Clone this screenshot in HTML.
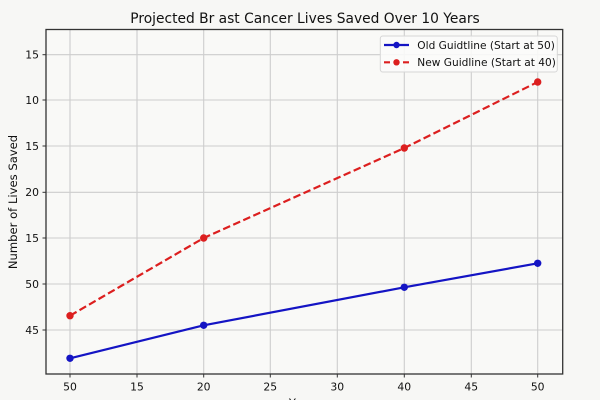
<!DOCTYPE html>
<html>
<head>
<meta charset="utf-8">
<style>
html,body{margin:0;padding:0;background:#f7f7f5;}
svg{display:block;}
text{font-family:"DejaVu Sans","Liberation Sans",sans-serif;fill:#111;}
</style>
</head>
<body>
<svg width="600" height="400" viewBox="0 0 600 400" xmlns="http://www.w3.org/2000/svg">
  <rect x="0" y="0" width="600" height="400" fill="#f7f7f5"/>
  <rect x="46" y="29.5" width="516.7" height="344.5" fill="#f9f9f7"/>
  <!-- grid -->
  <g stroke="#cdcdcd" stroke-width="1.1">
    <line x1="70" y1="29.5" x2="70" y2="374"/>
    <line x1="137" y1="29.5" x2="137" y2="374"/>
    <line x1="203.7" y1="29.5" x2="203.7" y2="374"/>
    <line x1="270.3" y1="29.5" x2="270.3" y2="374"/>
    <line x1="337.3" y1="29.5" x2="337.3" y2="374"/>
    <line x1="404.3" y1="29.5" x2="404.3" y2="374"/>
    <line x1="471.3" y1="29.5" x2="471.3" y2="374"/>
    <line x1="537.7" y1="29.5" x2="537.7" y2="374"/>
    <line x1="46" y1="54.7" x2="562.7" y2="54.7"/>
    <line x1="46" y1="100" x2="562.7" y2="100"/>
    <line x1="46" y1="146" x2="562.7" y2="146"/>
    <line x1="46" y1="192.3" x2="562.7" y2="192.3"/>
    <line x1="46" y1="238" x2="562.7" y2="238"/>
    <line x1="46" y1="284" x2="562.7" y2="284"/>
    <line x1="46" y1="330" x2="562.7" y2="330"/>
  </g>
  <!-- spines -->
  <rect x="46" y="29.5" width="516.7" height="344.5" fill="none" stroke="#333" stroke-width="1.3"/>
  <!-- ticks -->
  <g stroke="#333" stroke-width="1">
    <line x1="42.5" y1="54.7" x2="46" y2="54.7"/>
    <line x1="42.5" y1="100" x2="46" y2="100"/>
    <line x1="42.5" y1="146" x2="46" y2="146"/>
    <line x1="42.5" y1="192.3" x2="46" y2="192.3"/>
    <line x1="42.5" y1="238" x2="46" y2="238"/>
    <line x1="42.5" y1="284" x2="46" y2="284"/>
    <line x1="42.5" y1="330" x2="46" y2="330"/>
    <line x1="70" y1="374" x2="70" y2="377.5"/>
    <line x1="137" y1="374" x2="137" y2="377.5"/>
    <line x1="203.7" y1="374" x2="203.7" y2="377.5"/>
    <line x1="270.3" y1="374" x2="270.3" y2="377.5"/>
    <line x1="337.3" y1="374" x2="337.3" y2="377.5"/>
    <line x1="404.3" y1="374" x2="404.3" y2="377.5"/>
    <line x1="471.3" y1="374" x2="471.3" y2="377.5"/>
    <line x1="537.7" y1="374" x2="537.7" y2="377.5"/>
  </g>
  <!-- y tick labels -->
  <g font-size="10.8" text-anchor="end">
    <text x="39" y="58.6">15</text>
    <text x="39" y="103.9">10</text>
    <text x="39" y="149.9">15</text>
    <text x="39" y="196.2">20</text>
    <text x="39" y="241.9">15</text>
    <text x="39" y="287.9">50</text>
    <text x="39" y="333.9">45</text>
  </g>
  <!-- x tick labels -->
  <g font-size="10.8" text-anchor="middle">
    <text x="70" y="390.5">50</text>
    <text x="137" y="390.5">15</text>
    <text x="203.7" y="390.5">20</text>
    <text x="270.3" y="390.5">25</text>
    <text x="337.3" y="390.5">30</text>
    <text x="404.3" y="390.5">40</text>
    <text x="471.3" y="390.5">45</text>
    <text x="537.7" y="390.5">50</text>
  </g>
  <!-- axis labels -->
  <text x="304" y="407" font-size="11.5" text-anchor="middle">Years</text>
  <text transform="translate(17,202) rotate(-90)" font-size="11.6" text-anchor="middle">Number of Lives Saved</text>
  <!-- title -->
  <text x="305" y="23" font-size="13.8" text-anchor="middle">Projected Br ast Cancer Lives Saved Over 10 Years</text>
  <!-- red dashed series -->
  <polyline points="70,315.7 203.7,238 404.3,148 537.7,82" fill="none" stroke="#dc1f1f" stroke-width="2.2" stroke-dasharray="7.6,3.4"/>
  <g fill="#dc1f1f">
    <circle cx="70" cy="315.7" r="3.7"/>
    <circle cx="203.7" cy="238" r="3.7"/>
    <circle cx="404.3" cy="148" r="3.7"/>
    <circle cx="537.7" cy="82" r="3.7"/>
  </g>
  <!-- blue series -->
  <polyline points="70,358.3 203.7,325.3 404.3,287.3 537.7,263.3" fill="none" stroke="#1414c4" stroke-width="2.2"/>
  <g fill="#1414c4">
    <circle cx="70" cy="358.3" r="3.7"/>
    <circle cx="203.7" cy="325.3" r="3.7"/>
    <circle cx="404.3" cy="287.3" r="3.7"/>
    <circle cx="537.7" cy="263.3" r="3.7"/>
  </g>
  <!-- legend -->
  <rect x="380.3" y="36" width="177" height="36" rx="2.5" fill="#fbfbfa" fill-opacity="0.9" stroke="#d6d6d6" stroke-width="1"/>
  <line x1="384" y1="45" x2="409" y2="45" stroke="#1414c4" stroke-width="2.2"/>
  <circle cx="396.5" cy="45" r="3.2" fill="#1414c4"/>
  <line x1="384" y1="62.3" x2="409" y2="62.3" stroke="#dc1f1f" stroke-width="2.2" stroke-dasharray="6,3.5"/>
  <circle cx="396.5" cy="62.3" r="3.2" fill="#dc1f1f"/>
  <g font-size="10.6">
    <text x="417.3" y="48.9">Old Guidtline (Start at 50)</text>
    <text x="417.3" y="66.2">New Guidline (Start at 40)</text>
  </g>
</svg>
</body>
</html>
